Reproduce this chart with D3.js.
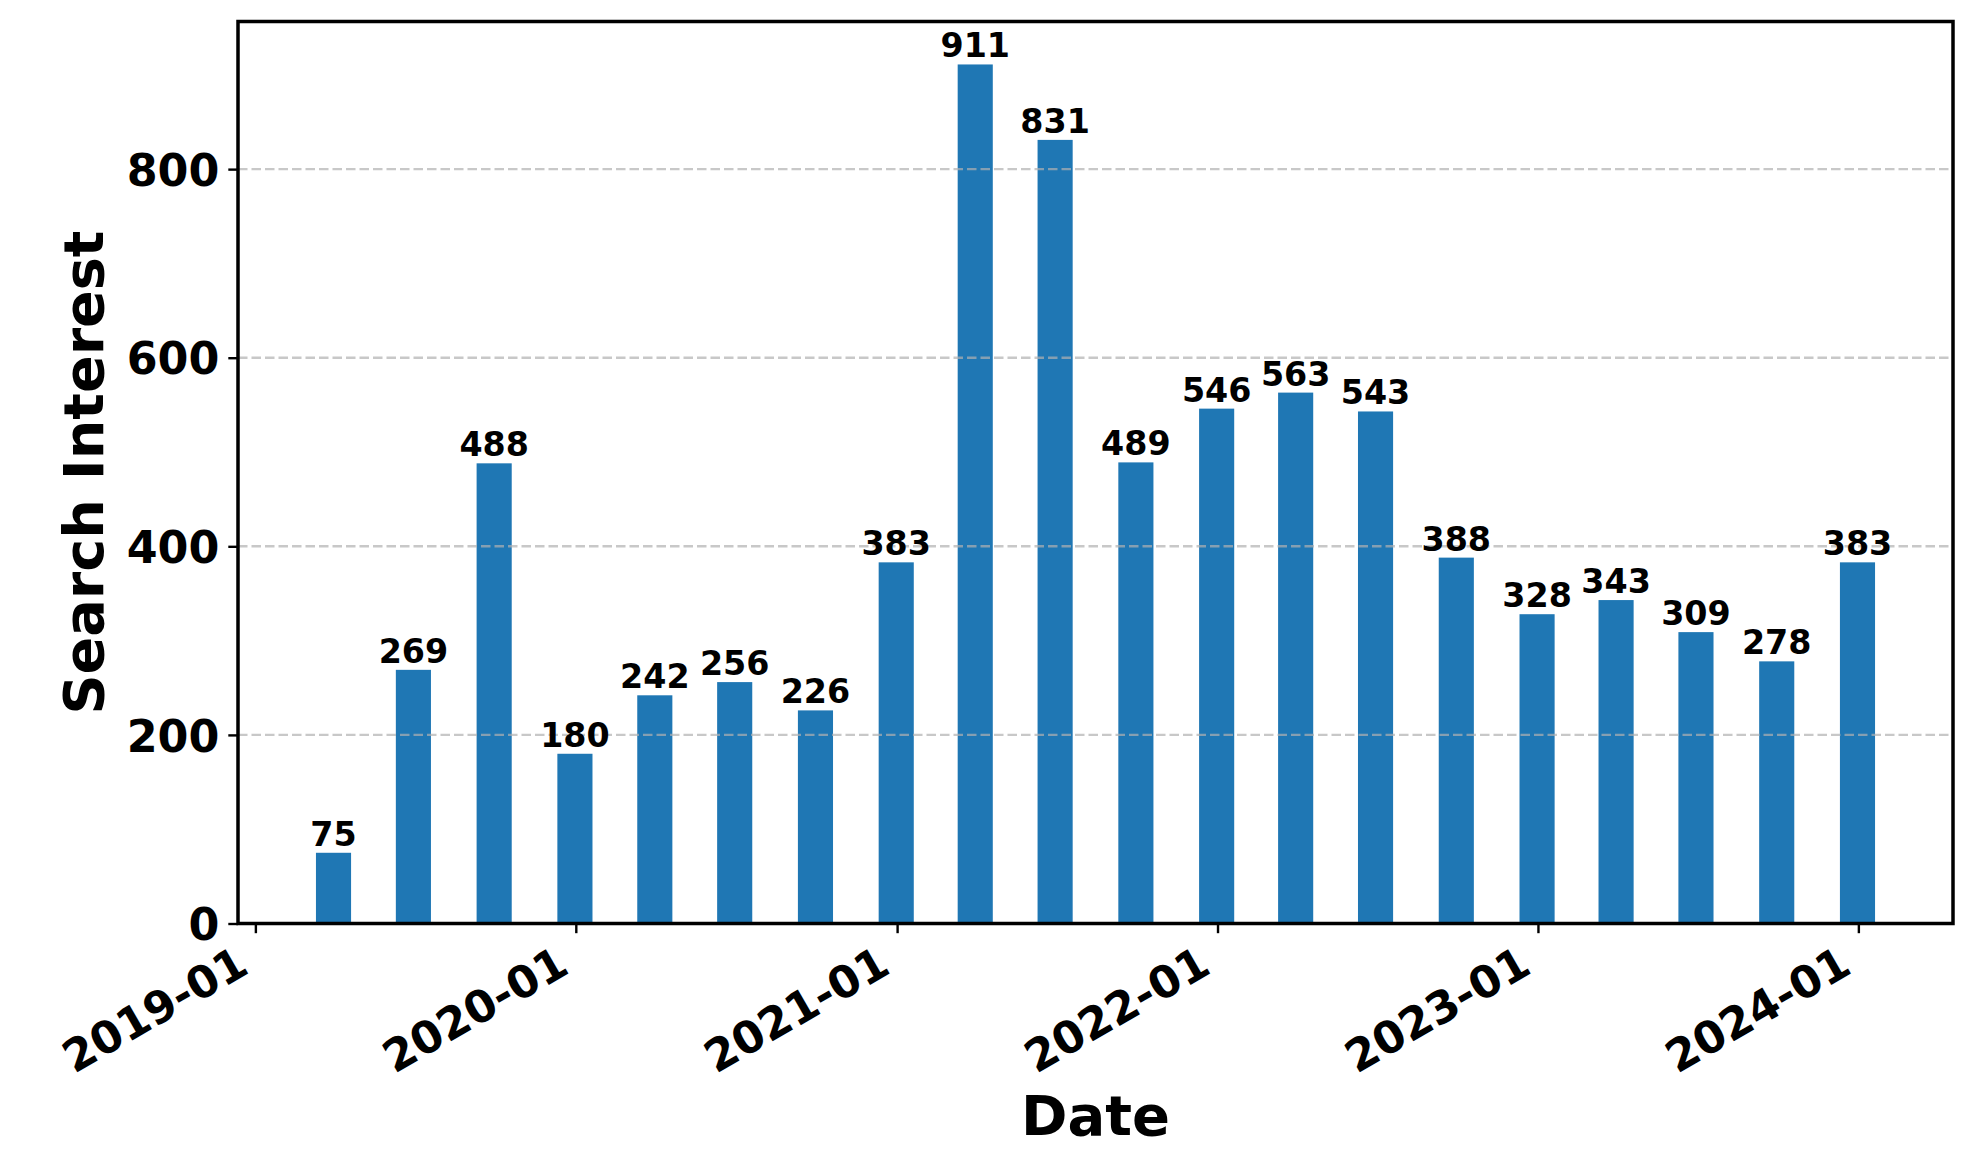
<!DOCTYPE html>
<html>
<head>
<meta charset="utf-8">
<script src="https://cdn.jsdelivr.net/npm/d3@7"></script>
<style>
  body { margin: 0; background: #fff; }
  svg text { font-family: "DejaVu Sans", sans-serif; font-weight: bold; fill: #000; }
</style>
</head>
<body>
<div id="chart"></div>
<script>
// quarter-end dates and search interest values
const dates = ["2019-03-31", "2019-06-30", "2019-09-30", "2019-12-31",
               "2020-03-31", "2020-06-30", "2020-09-30", "2020-12-31",
               "2021-03-31", "2021-06-30", "2021-09-30", "2021-12-31",
               "2022-03-31", "2022-06-30", "2022-09-30", "2022-12-31",
               "2023-03-31", "2023-06-30", "2023-09-30", "2023-12-31"];
const values = [75, 269, 488, 180, 242, 256, 226, 383, 911, 831,
                489, 546, 563, 543, 388, 328, 343, 309, 278, 383];
const yTicks = [0, 200, 400, 600, 800];
const xTickLabels = ["2019-01", "2020-01", "2021-01", "2022-01", "2023-01", "2024-01"];
const barDays = 40;

const width = 1981, height = 1162;
const plot = { left: 238, right: 1953, top: 21.5, bottom: 923.5 };

const DAY = 864e5;
const parse = d3.utcParse("%Y-%m-%d");
const data = dates.map((d, i) => ({ date: parse(d), value: values[i] }));

// I. scales (matplotlib style 5% margins)
let x0 = +data[0].date - barDays / 2 * DAY;
let x1 = +data[data.length - 1].date + barDays / 2 * DAY;
let pad = (x1 - x0) * 0.05;
const x = d3.scaleUtc()
  .domain([new Date(x0 - pad), new Date(x1 + pad)])
  .range([plot.left, plot.right]);
const y = d3.scaleLinear()
  .domain([0, d3.max(values) * 1.05])
  .range([plot.bottom, plot.top]);

// II. svg
const svg = d3.select("#chart")
  .append("svg")
    .attr("width", width)
    .attr("height", height)
    .attr("viewBox", `0 0 ${width} ${height}`);

// III. bars
svg.append("g")
  .selectAll("rect")
  .data(data)
  .join("rect")
    .attr("x", d => x(+d.date - barDays / 2 * DAY))
    .attr("width", d => x(+d.date + barDays / 2 * DAY) - x(+d.date - barDays / 2 * DAY))
    .attr("y", d => y(d.value))
    .attr("height", d => y(0) - y(d.value))
    .attr("fill", "#1f77b4");

// IV. grid (drawn over bars)
svg.append("g")
  .selectAll("line")
  .data(yTicks)
  .join("line")
    .attr("x1", plot.left)
    .attr("x2", plot.right)
    .attr("y1", d => y(d))
    .attr("y2", d => y(d))
    .attr("stroke", "#b0b0b0")
    .attr("stroke-opacity", 0.7)
    .attr("stroke-width", 2.4)
    .attr("stroke-dasharray", "9.5 4");

// V. value labels
svg.append("g")
  .selectAll("text")
  .data(data)
  .join("text")
    .attr("x", d => x(d.date))
    .attr("y", d => y(d.value) - 7)
    .attr("text-anchor", "middle")
    .style("font-size", "33.3px")
    .text(d => d.value);

// VI. y axis
const yAxis = svg.append("g")
  .attr("transform", `translate(${plot.left},0)`)
  .call(d3.axisLeft(y).tickValues(yTicks).tickSize(9.7).tickPadding(9).tickSizeOuter(0));
yAxis.select(".domain").remove();
yAxis.selectAll(".tick line").attr("stroke", "#000").attr("stroke-width", 2.4);
yAxis.selectAll(".tick text")
  .attr("dy", null)
  .attr("y", 16.2)
  .style("font-size", "44.4px")
  .style("font-family", "DejaVu Sans")
  .style("font-weight", "bold");

// VII. x axis (yearly ticks, rotated labels)
const xTicks = xTickLabels.map(s => parse(s + "-01"));
const xAxis = svg.append("g")
  .attr("transform", `translate(0,${plot.bottom})`)
  .call(d3.axisBottom(x).tickValues(xTicks).tickFormat(d3.utcFormat("%Y-%m")).tickSize(9.7).tickSizeOuter(0));
xAxis.select(".domain").remove();
xAxis.selectAll(".tick line").attr("stroke", "#000").attr("stroke-width", 2.4);
const fs = 44.4, asc = 0.76 * fs, desc = 0.236 * fs, labelTop = 9.7 + 9.7;
xAxis.selectAll(".tick text")
  .attr("y", null)
  .attr("dy", null)
  .attr("text-anchor", "end")
  .attr("transform", `translate(${-0.5 * desc},${labelTop + 0.866 * asc}) rotate(-30)`)
  .style("font-size", fs + "px")
  .style("font-family", "DejaVu Sans")
  .style("font-weight", "bold");

// VIII. frame
svg.append("rect")
  .attr("x", plot.left)
  .attr("y", plot.top)
  .attr("width", plot.right - plot.left)
  .attr("height", plot.bottom - plot.top)
  .attr("fill", "none")
  .attr("stroke", "#000")
  .attr("stroke-width", 3.5);

// IX. axis titles
svg.append("text")
  .attr("x", (plot.left + plot.right) / 2)
  .attr("y", 1135)
  .attr("text-anchor", "middle")
  .style("font-size", "56px")
  .text("Date");
svg.append("text")
  .attr("transform", `translate(103,${(plot.top + plot.bottom) / 2}) rotate(-90)`)
  .attr("text-anchor", "middle")
  .style("font-size", "55.6px")
  .text("Search Interest");
</script>
</body>
</html>
